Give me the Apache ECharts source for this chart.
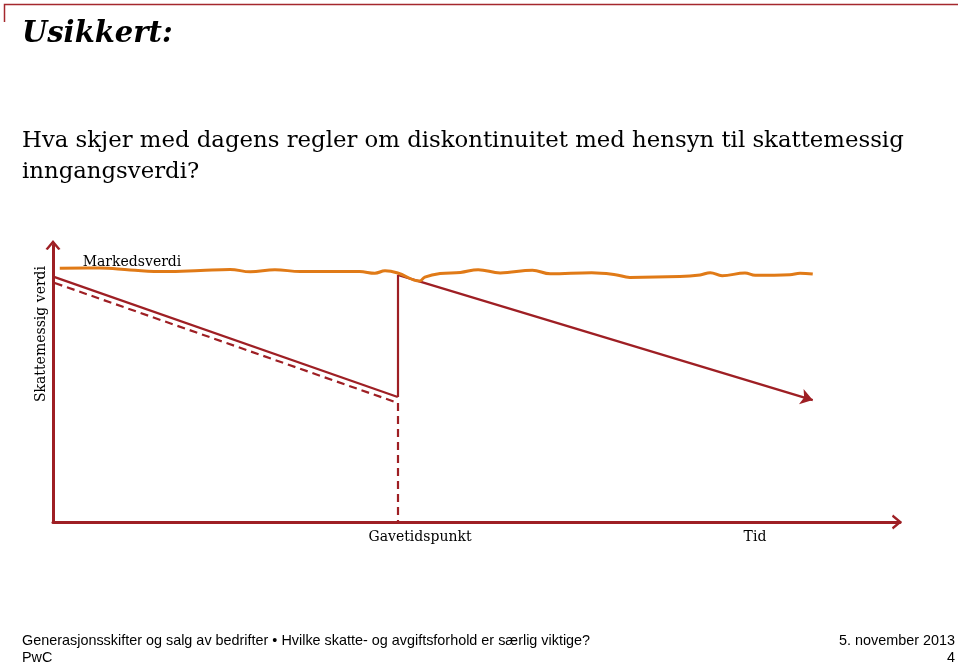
<!DOCTYPE html>
<html>
<head>
<meta charset="utf-8">
<script src="https://cdn.jsdelivr.net/npm/echarts@6/dist/echarts.min.js"></script>
<style>
html,body{margin:0;padding:0;background:#fff;}
#chart{width:960px;height:665px;}
</style>
</head>
<body>
<div id="chart"></div>
<script>
// ---- data (conceptual units: time 0..100, value 0..100) ----
var marketX = [0.8, 5.5, 9.1, 13.2, 17.4, 20.9, 23.3, 26.2, 29.2, 36.2, 38.0, 39.2, 40.7, 43.3, 43.9, 45.7, 48.1, 50.2, 52.8, 56.6, 58.7, 63.6, 66.4, 68.1, 74.0, 76.4, 77.6, 79.0, 81.7, 82.9, 87.0, 88.2, 89.7];
var marketY = [91.6, 91.7, 91.0, 90.4, 90.8, 91.2, 90.3, 91.1, 90.4, 90.4, 89.8, 90.7, 89.9, 87.0, 88.4, 89.7, 90.1, 91.1, 89.9, 90.9, 89.6, 90.0, 89.3, 88.3, 88.6, 89.2, 90.0, 88.9, 89.9, 89.1, 89.3, 89.8, 89.5];

var giftTime = 40.7;          // Gavetidspunkt
var startTime = 0.2;
var endTime = 89.7;
var taxStart = 88.4;          // solid line start value
var taxAtGift = 45.1;         // solid value just before gift
var taxReset = 89.2;          // value after reset at gift
var taxEnd = 44.0;            // value at end (arrow)
var dashStart = 86.3;         // dashed line start value
var dashAtGift = 43.0;        // dashed value at gift

var labels = {
  title: 'Usikkert:',
  q1: 'Hva skjer med dagens regler om diskontinuitet med hensyn til skattemessig',
  q2: 'inngangsverdi?',
  yName: 'Skattemessig verdi',
  market: 'Markedsverdi',
  gift: 'Gavetidspunkt',
  time: 'Tid',
  foot1: 'Generasjonsskifter og salg av bedrifter \u2022 Hvilke skatte- og avgiftsforhold er s\u00e6rlig viktige?',
  foot2: 'PwC',
  date: '5. november 2013',
  page: '4'
};

var RED = '#9E1F24';
var ORANGE = '#E07A17';
var SERIF = '"DejaVu Serif", Georgia, serif';
var SANS = '"Liberation Sans", Arial, sans-serif';

var chevron = 'path://M0,12 L10,0 L20,12 L17,13.5 L10,5 L3,13.5 Z';

var marketData = marketX.map(function (x, i) { return [x, marketY[i]]; });

var chart = echarts.init(document.getElementById('chart'), null, {renderer: 'canvas'});

var option = {
  backgroundColor: '#ffffff',
  animation: false,
  grid: {left: 53, right: 60, top: 245, bottom: 143, containLabel: false},
  xAxis: {
    type: 'value', min: 0, max: 100,
    axisLine: {show: true, onZero: false, lineStyle: {color: RED, width: 3},
      symbol: ['none', chevron], symbolSize: [15, 14], symbolOffset: [0, -3]},
    axisTick: {show: false}, axisLabel: {show: false}, splitLine: {show: false}
  },
  yAxis: {
    type: 'value', min: 0, max: 100,
    axisLine: {show: true, onZero: false, lineStyle: {color: RED, width: 3},
      symbol: ['none', chevron], symbolSize: [15, 14], symbolOffset: [0, 0]},
    axisTick: {show: false}, axisLabel: {show: false}, splitLine: {show: false}
  },
  series: [
    {
      type: 'line', name: 'market', data: marketData, smooth: 0.4,
      showSymbol: false, symbol: 'none',
      lineStyle: {color: ORANGE, width: 3}, z: 3
    },
    {
      type: 'lines', coordinateSystem: 'cartesian2d', z: 2,
      lineStyle: {color: RED, width: 2.2, opacity: 1},
      symbol: ['none', 'none'],
      data: [
        {coords: [[startTime, taxStart], [giftTime, taxAtGift]]},
        {coords: [[giftTime, taxAtGift], [giftTime, taxReset]]}
      ]
    },
    {
      type: 'lines', coordinateSystem: 'cartesian2d', z: 2,
      lineStyle: {color: RED, width: 2.2, opacity: 1},
      symbol: ['none', 'arrow'], symbolSize: [0, 12],
      data: [
        {coords: [[giftTime, taxReset], [endTime, taxEnd]]}
      ]
    },
    {
      type: 'lines', coordinateSystem: 'cartesian2d', z: 2,
      lineStyle: {color: RED, width: 2.2, type: [8, 5], opacity: 1},
      symbol: ['none', 'none'],
      data: [
        {coords: [[startTime, dashStart], [giftTime, dashAtGift]]},
        {coords: [[giftTime, dashAtGift], [giftTime, 0]]}
      ]
    }
  ],
  graphic: [
    {type: 'polyline', shape: {points: [[4.5, 22], [4.5, 4.5], [958, 4.5]]}, style: {stroke: '#A5282D', lineWidth: 1.5, fill: null}},
    {type: 'text', style: {x: 22, y: 34, text: labels.title, font: 'italic bold 29px ' + SERIF, fill: '#000', textVerticalAlign: 'middle'}},
    {type: 'text', style: {x: 22, y: 141, text: labels.q1, font: '22.8px ' + SERIF, fill: '#000', textVerticalAlign: 'middle'}},
    {type: 'text', style: {x: 22, y: 172, text: labels.q2, font: '22.8px ' + SERIF, fill: '#000', textVerticalAlign: 'middle'}},
    {type: 'text', x: 41, y: 334, rotation: Math.PI / 2, style: {x: 0, y: 0, text: labels.yName, font: '14px ' + SERIF, fill: '#000', textAlign: 'center', textVerticalAlign: 'middle'}},
    {type: 'text', style: {x: 132, y: 262, text: labels.market, font: '14px ' + SERIF, fill: '#000', textAlign: 'center', textVerticalAlign: 'middle'}},
    {type: 'text', style: {x: 420, y: 537, text: labels.gift, font: '14px ' + SERIF, fill: '#000', textAlign: 'center', textVerticalAlign: 'middle'}},
    {type: 'text', style: {x: 755, y: 537, text: labels.time, font: '14px ' + SERIF, fill: '#000', textAlign: 'center', textVerticalAlign: 'middle'}},
    {type: 'text', style: {x: 22, y: 641, text: labels.foot1, font: '14.4px ' + SANS, fill: '#000', textVerticalAlign: 'middle'}},
    {type: 'text', style: {x: 22, y: 658, text: labels.foot2, font: '14.4px ' + SANS, fill: '#000', textVerticalAlign: 'middle'}},
    {type: 'text', style: {x: 955, y: 641, text: labels.date, font: '14.4px ' + SANS, fill: '#000', textAlign: 'right', textVerticalAlign: 'middle'}},
    {type: 'text', style: {x: 955, y: 658, text: labels.page, font: '14.4px ' + SANS, fill: '#000', textAlign: 'right', textVerticalAlign: 'middle'}}
  ]
};
chart.setOption(option);
</script>
</body>
</html>
